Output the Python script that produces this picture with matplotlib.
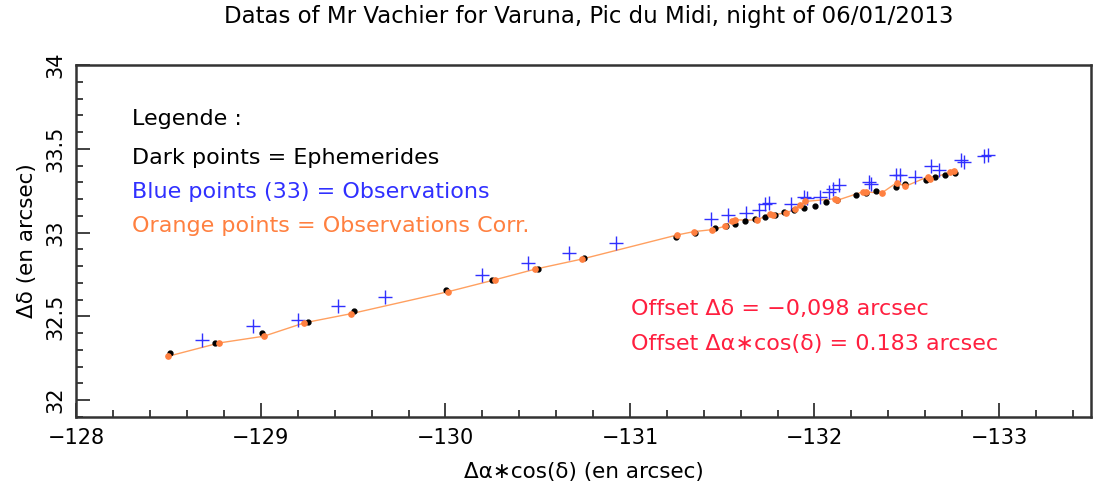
import numpy as np
import matplotlib
matplotlib.use("Agg")
import matplotlib.pyplot as plt
from matplotlib.ticker import MultipleLocator

# observations (blue crosses)
obs_x = [-128.679, -128.958, -129.199, -129.419, -129.670, -130.199, -130.449, -130.669,
         -130.922, -131.439, -131.530, -131.630, -131.699, -131.734, -131.755, -131.873,
         -131.943, -131.958, -132.031, -132.079, -132.103, -132.133, -132.293, -132.304,
         -132.444, -132.461, -132.547, -132.629, -132.675, -132.797, -132.810, -132.920,
         -132.940]
obs_y = [32.360, 32.440, 32.480, 32.560, 32.614, 32.746, 32.816, 32.880,
         32.940, 33.084, 33.104, 33.116, 33.136, 33.168, 33.174, 33.173,
         33.212, 33.206, 33.215, 33.240, 33.260, 33.284, 33.300, 33.290,
         33.341, 33.341, 33.334, 33.396, 33.374, 33.431, 33.420, 33.458,
         33.466]

# ephemerides (dark points)
eph_x = [-128.505, -128.752, -129.004, -129.253, -129.502, -130.001, -130.250, -130.500,
         -130.749, -131.247, -131.355, -131.461, -131.518, -131.572, -131.626, -131.678,
         -131.732, -131.786, -131.835, -131.889, -131.943, -132.003, -132.065, -132.120,
         -132.225, -132.279, -132.333, -132.442, -132.493, -132.602, -132.656, -132.707,
         -132.764]
eph_y = [32.280, 32.340, 32.404, 32.466, 32.530, 32.656, 32.720, 32.782,
         32.846, 32.972, 32.999, 33.026, 33.040, 33.054, 33.068, 33.081,
         33.095, 33.108, 33.124, 33.136, 33.148, 33.161, 33.180, 33.194,
         33.222, 33.234, 33.250, 33.275, 33.293, 33.316, 33.330, 33.345,
         33.356]

# offsets written on the chart
off_dec = -0.098
off_ra = 0.183

obs_x = np.array(obs_x)
obs_y = np.array(obs_y)
corr_x = obs_x + off_ra
corr_y = obs_y + off_dec
order = np.argsort(-corr_x)

blue = '#3030ff'
orange = '#ff8040'
red = '#ff1f3f'

plt.rcParams['font.family'] = ['DejaVu Sans']

fig = plt.figure(figsize=(11, 4.88), dpi=100)
ax = fig.add_axes([0.0695, 0.1455, 0.9225, 0.7213])

ax.plot(corr_x[order], corr_y[order], '-', color='#ffa060', lw=1.0, zorder=2)
ax.plot(obs_x, obs_y, '+', color=blue, ms=10, mew=1.0, zorder=3)
ax.plot(eph_x, eph_y, 'o', color='black', ms=3.5, zorder=4)
ax.plot(corr_x, corr_y, 'o', color=orange, ms=3.8, zorder=5)

ax.set_xlim(-128, -133.5)
ax.set_ylim(31.9, 34.0)

ax.xaxis.set_major_locator(MultipleLocator(1))
ax.xaxis.set_minor_locator(MultipleLocator(0.2))
ax.yaxis.set_minor_locator(MultipleLocator(0.1))
ax.set_yticks([32, 32.5, 33, 33.5, 34])
ax.set_yticklabels(['32', '32.5', '33', '33.5', '34'], rotation=90, va='center')
ax.tick_params(which='both', direction='in', top=False, right=False, width=1.3, color='#333333')
ax.tick_params(which='major', length=10, labelsize=15, pad=8)
ax.tick_params(which='minor', length=5)
for s in ax.spines.values():
    s.set_linewidth(1.8)
    s.set_color('#333333')

ax.set_xlabel('Δα∗cos(δ) (en arcsec)', fontsize=15.5, labelpad=10)
ax.set_ylabel('Δδ (en arcsec)', fontsize=15.5, labelpad=6)
fig.suptitle('Datas of Mr Vachier for Varuna, Pic du Midi, night of 06/01/2013',
             fontsize=16.5, x=0.535, y=0.99)

fs = 16
tx = ax.transAxes
ax.text(0.055, 0.848, 'Legende :', fontsize=fs, color='black', transform=tx, va='center')
ax.text(0.055, 0.735, 'Dark points = Ephemerides', fontsize=fs, color='black', transform=tx, va='center')
ax.text(0.055, 0.640, 'Blue points (33) = Observations', fontsize=fs, color=blue, transform=tx, va='center')
ax.text(0.055, 0.543, 'Orange points = Observations Corr.', fontsize=fs, color=orange, transform=tx, va='center')
ax.text(0.546, 0.306, 'Offset Δδ = −0,098 arcsec', fontsize=fs, color=red, transform=tx, va='center')
ax.text(0.546, 0.206, 'Offset Δα∗cos(δ) = 0.183 arcsec', fontsize=fs, color=red, transform=tx, va='center')

fig.savefig('out.png', dpi=100)
